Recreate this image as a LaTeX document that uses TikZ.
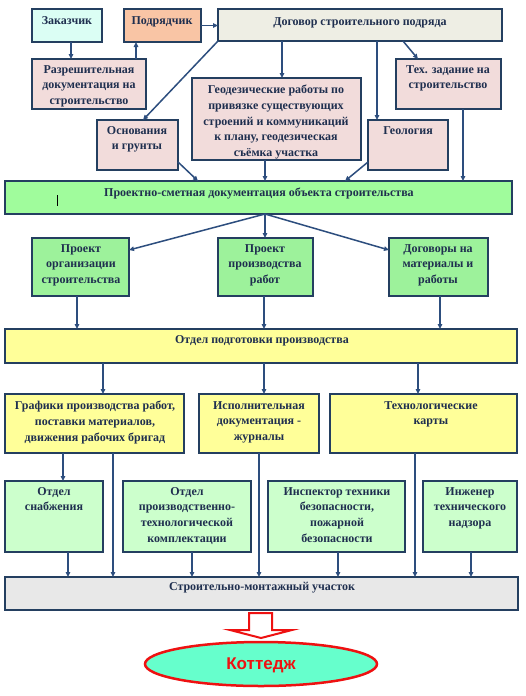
\documentclass[tikz,border=0pt]{standalone}
\usepackage{fontspec}
\setmainfont{Liberation Serif}
\newfontfamily\kotfont{Liberation Sans}
\usetikzlibrary{arrows.meta,shapes.geometric}
\definecolor{cZak}{HTML}{DBFEF4}
\definecolor{cPod}{HTML}{F9C5A5}
\definecolor{cDog}{HTML}{EEEEE4}
\definecolor{cPink}{HTML}{F2DCDB}
\definecolor{cGa}{HTML}{A0FC9C}
\definecolor{cGb}{HTML}{9DF29B}
\definecolor{cY}{HTML}{FFFF99}
\definecolor{cLG}{HTML}{CCFFCC}
\definecolor{cGrey}{HTML}{E8E8E8}
\definecolor{cBord}{HTML}{243F60}
\definecolor{cArr}{HTML}{2D4E7E}
\definecolor{cTxt}{HTML}{1F2F4F}
\definecolor{cKot}{HTML}{66FFCC}
\definecolor{cRed}{HTML}{EE1111}
\newcommand\mkbox[6]{\node[bx,fill=#6,minimum width={(#4-#2)*1pt},minimum height={(#5-#3)*1pt},anchor=north west] (#1) at (#2,#3) {};}
\tikzset{
  bx/.style={draw=cBord,line width=1.8pt,inner sep=0pt,outer sep=0pt},
  tx/.style={font=\fontsize{12}{15.7}\selectfont\bfseries,text=cTxt,align=center,inner sep=0pt,anchor=north},
  arr/.style={draw=cArr,line width=1.5pt,-{Triangle[length=5pt,width=4.5pt]}},
  ln/.style={draw=cArr,line width=1.5pt}
}
\begin{document}
\begin{tikzpicture}[x=1pt,y=-1pt]
\useasboundingbox[fill=white] (0,0) rectangle (526,696);
% row 1
\mkbox{zak}{32}{9}{102}{42}{cZak}
\mkbox{pod}{124}{9}{201}{42}{cPod}
\mkbox{dog}{218}{9}{502}{41}{cDog}
\node[tx] (zakt) at (67,16) {Заказчик};
\node[tx] (podt) at (162,16) {Подрядчик};
\node[tx] (dogt) at (360,17) {Договор строительного подряда};
% row 2
\mkbox{raz}{32}{59}{146}{109}{cPink}
\mkbox{tex}{396}{59}{501}{109}{cPink}
\mkbox{geod}{192}{78}{361}{160}{cPink}
\mkbox{osn}{97}{120}{178}{170}{cPink}
\mkbox{geol}{368}{120}{448}{170}{cPink}
\node[tx] (razt) at (89,65) {Разрешительная\\документация на\\строительство};
\node[tx] (text) at (448,65) {Тех. задание на\\строительство};
\node[tx] (geodt) at (276,85) {Геодезические работы по\\привязке существующих\\строений и коммуникаций\\к плану, геодезическая\\съёмка участка};
\node[tx] (osnt) at (137,126) {Основания\\и грунты};
\node[tx] (geolt) at (408,126) {Геология};
% PSD
\mkbox{psd}{5}{181}{512}{214}{cGa}
\node[tx] (psdt) at (259,188) {Проектно-сметная документация объекта строительства};
\draw[black,line width=0.8pt] (57,195) -- (57,206);
% row 3
\mkbox{poc}{32}{238}{129}{296}{cGb}
\mkbox{ppr}{218}{238}{313}{296}{cGb}
\mkbox{dmr}{389}{238}{488}{296}{cGb}
\node[tx] (poct) at (81,244) {Проект\\организации\\строительства};
\node[tx] (pprt) at (265,244) {Проект\\производства\\работ};
\node[tx] (dmrt) at (438,244) {Договоры на\\материалы и\\работы};
% OTD
\mkbox{otd}{5}{329}{517}{363}{cY}
\node[tx] (otdt) at (262,335) {Отдел подготовки производства};
% row 4
\mkbox{graf}{5}{394}{184}{453}{cY}
\mkbox{isp}{199}{394}{319}{453}{cY}
\mkbox{tk}{330}{394}{517}{453}{cY}
\node[tx] (graft) at (95,401) {Графики производства работ,\\поставки материалов,\\движения рабочих бригад};
\node[tx] (ispt) at (259,401) {Исполнительная\\документация -\\журналы};
\node[tx] (tkt) at (431,401) {Технологические\\карты};
% row 5
\mkbox{snab}{5}{481}{103}{552}{cLG}
\mkbox{ptk}{123}{481}{251}{552}{cLG}
\mkbox{insp}{268}{481}{405}{552}{cLG}
\mkbox{ing}{423}{481}{517}{552}{cLG}
\node[tx] (snabt) at (54,487) {Отдел\\снабжения};
\node[tx] (ptkt) at (187,487) {Отдел\\производственно-\\технологической\\комплектации};
\node[tx] (inspt) at (337,487) {Инспектор техники\\безопасности,\\пожарной\\безопасности};
\node[tx] (ingt) at (470,487) {Инженер\\технического\\надзора};
% SMU
\mkbox{smu}{5}{577}{518}{610}{cGrey}
\node[tx] (smut) at (262,582) {Строительно-монтажный участок};
% block arrow
\draw[cRed,line width=2pt,fill=white,line join=miter] (249,613) -- (272,613) -- (272,630) -- (292,630) -- (261,638) -- (230,630) -- (249,630) -- cycle;
% ellipse
\node[ellipse,draw=cRed,line width=2.5pt,fill=cKot,minimum width=232pt,minimum height=44pt,inner sep=0pt] (kot) at (261,664) {};
\node[font=\kotfont\bfseries\fontsize{17}{20}\selectfont,text=cRed,inner sep=0pt] (kott) at (261,665) {Коттедж};
% connectors row 1-2
\draw[arr] (pod.east) -- (pod.east -| dog.west);
\draw[arr] (71,0 |- zak.south) -- (71,0 |- raz.north);
\draw[arr] (136,0 |- raz.north) -- (136,0 |- pod.south);
\draw[arr] (dog.south west) -- (143,0 |- osn.north);
\draw[arr] (282,0 |- dog.south) -- (282,0 |- geod.north);
\draw[arr] (377,0 |- dog.south) -- (377,0 |- geol.north);
\draw[arr] (403,0 |- dog.south) -- (418,0 |- tex.north);
% to PSD
\draw[arr] (osn.east |- 0,162) -- (198,0 |- psd.north);
\draw[arr] (265,0 |- geod.south) -- (265,0 |- psd.north);
\draw[arr] (geol.west |- 0,162) -- (345,0 |- psd.north);
\draw[arr] (463,0 |- tex.south) -- (463,0 |- psd.north);
% from PSD
\draw[arr] (265,0 |- psd.south) -- (poc.east |- 0,250);
\draw[arr] (265,0 |- psd.south) -- (265,0 |- ppr.north);
\draw[arr] (265,0 |- psd.south) -- (dmr.west |- 0,250);
% to OTD
\draw[arr] (77,0 |- poc.south) -- (77,0 |- otd.north);
\draw[arr] (264,0 |- ppr.south) -- (264,0 |- otd.north);
\draw[arr] (440,0 |- dmr.south) -- (440,0 |- otd.north);
% from OTD
\draw[arr] (103,0 |- otd.south) -- (103,0 |- graf.north);
\draw[arr] (264,0 |- otd.south) -- (264,0 |- isp.north);
\draw[arr] (418,0 |- otd.south) -- (418,0 |- tk.north);
% row 4 to 5 / SMU
\draw[arr] (63,0 |- graf.south) -- (63,0 |- snab.north);
\draw[arr] (113,0 |- graf.south) -- (113,0 |- smu.north);
\draw[arr] (259,0 |- isp.south) -- (259,0 |- smu.north);
\draw[arr] (415,0 |- tk.south) -- (415,0 |- smu.north);
\draw[arr] (68,0 |- snab.south) -- (68,0 |- smu.north);
\draw[arr] (192,0 |- ptk.south) -- (192,0 |- smu.north);
\draw[arr] (338,0 |- insp.south) -- (338,0 |- smu.north);
\draw[arr] (471,0 |- ing.south) -- (471,0 |- smu.north);
\end{tikzpicture}
\end{document}
